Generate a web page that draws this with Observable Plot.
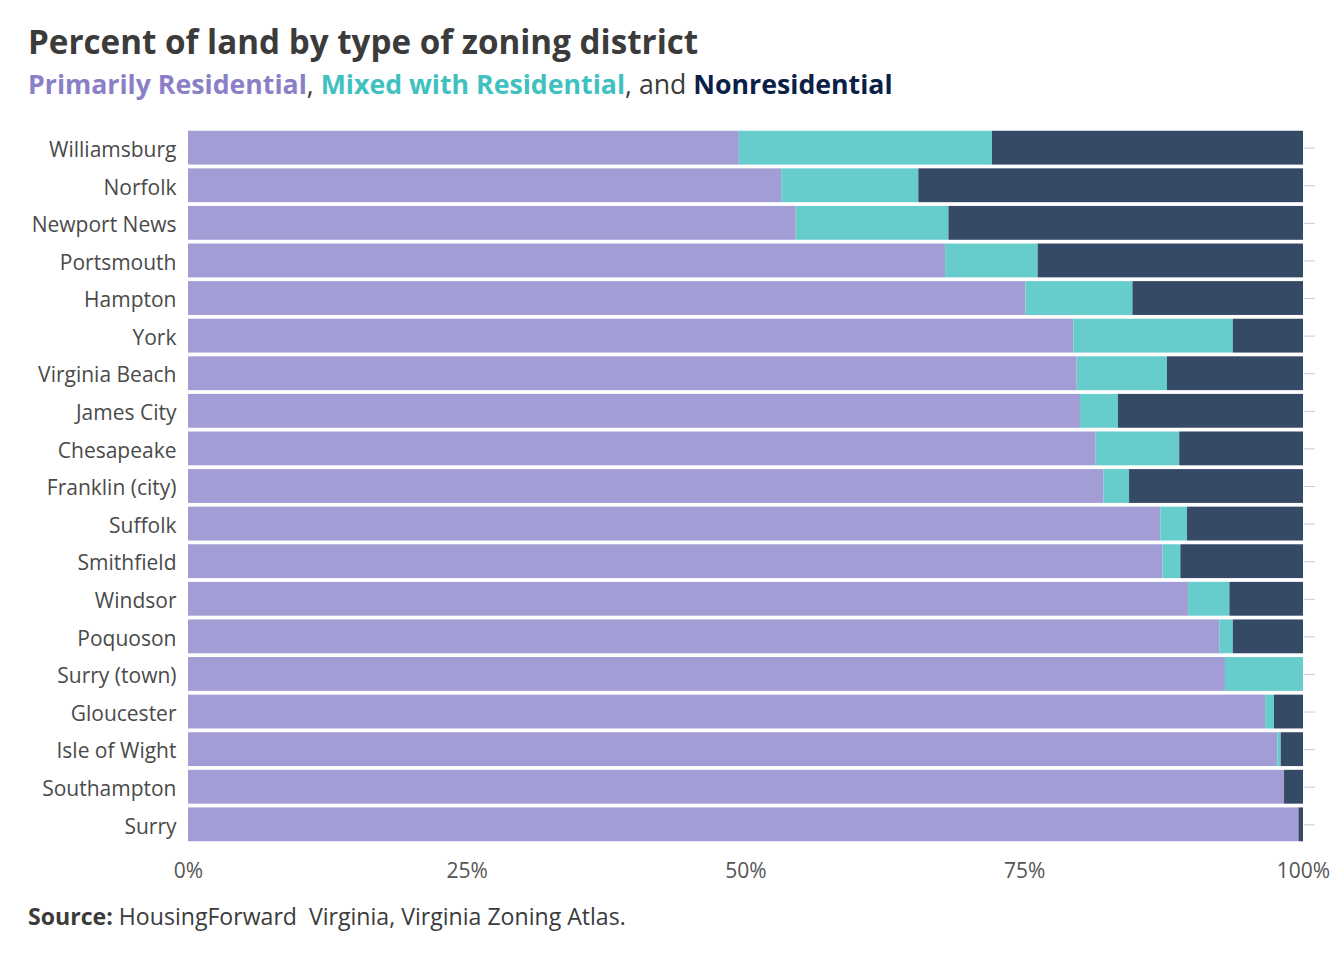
<!DOCTYPE html>
<html>
<head>
<meta charset="utf-8">
<script src="https://cdn.jsdelivr.net/npm/d3@7"></script>
<script src="https://cdn.jsdelivr.net/npm/@observablehq/plot@0.6"></script>
<style>
  html, body { margin: 0; padding: 0; background: #fff; }
  body { width: 1344px; height: 960px; position: relative; font-family: "Open Sans", sans-serif; overflow: hidden; }
  #title { position: absolute; left: 28px; top: 19px; font-size: 33.2px; font-weight: 700; color: #3b3b3b; white-space: nowrap; line-height: normal; }
  #subtitle { position: absolute; left: 28px; top: 65px; font-size: 26.7px; color: #3b3b3b; white-space: nowrap; line-height: normal; }
  #subtitle b { font-weight: 700; }
  #chart { position: absolute; left: 0; top: 110px; }
  #source { position: absolute; left: 28px; top: 900px; font-size: 23.1px; color: #3b3b3b; white-space: nowrap; line-height: normal; }
</style>
</head>
<body>
<div id="title">Percent of land by type of zoning district</div>
<div id="subtitle"><b style="color:#8a80c8">Primarily Residential</b>, <b style="color:#3fc1bf">Mixed with Residential</b>, and <b style="color:#0a2147">Nonresidential</b></div>
<div id="chart"></div>
<div id="source"><b>Source:</b> HousingForward&nbsp; Virginia, Virginia Zoning Atlas.</div>
<script>
const cities = ["Williamsburg","Norfolk","Newport News","Portsmouth","Hampton","York","Virginia Beach","James City","Chesapeake","Franklin (city)","Suffolk","Smithfield","Windsor","Poquoson","Surry (town)","Gloucester","Isle of Wight","Southampton","Surry"];
const residential = [49.4,53.2,54.5,67.9,75.1,79.4,79.7,80.0,81.4,82.1,87.2,87.4,89.7,92.5,93.0,96.6,97.7,98.3,99.6];
const mixed       = [22.7,12.3,13.7, 8.3, 9.6,14.3, 8.1, 3.4, 7.5, 2.3, 2.4, 1.6, 3.7, 1.2, 7.0, 0.8, 0.3, 0.0, 0.0];
const nonres      = [27.9,34.5,31.8,23.8,15.3, 6.3,12.2,16.6,11.1,15.6,10.4,11.0, 6.6, 6.3, 0.0, 2.6, 2.0, 1.7, 0.4];
const categories = ["Primarily Residential","Mixed with Residential","Nonresidential"];
const colors = ["#a39dd5","#67cdcc","#344a66"];
const xTicks = [0,25,50,75,100];

const rows = [];
cities.forEach((c, i) => {
  rows.push({city: c, type: categories[0], value: residential[i]});
  rows.push({city: c, type: categories[1], value: mixed[i]});
  rows.push({city: c, type: categories[2], value: nonres[i]});
});

const chart = Plot.plot({
  width: 1344,
  height: 790,
  marginLeft: 188,
  marginRight: 41,
  marginTop: 17,
  marginBottom: 55,
  style: {fontFamily: "Open Sans", background: "transparent"},
  x: {domain: [0, 100]},
  y: {domain: cities, padding: 0.1, round: false},
  color: {domain: categories, range: colors},
  marks: [
    Plot.barX(rows, Plot.stackX({x: "value", y: "city", fill: "type", order: categories})),
    Plot.axisX({ticks: xTicks, tickSize: 0, tickPadding: 18, tickFormat: d => d + "%", fontSize: 21, fill: "#555", label: null}),
    Plot.axisY({anchor: "left", tickSize: 0, tickPadding: 12, dy: 2, fontSize: 21, fill: "#4a4a4a", label: null}),
    Plot.axisY({anchor: "right", tickSize: 11, tickFormat: () => "", stroke: "#cccccc", label: null})
  ]
});
document.getElementById("chart").appendChild(chart);
</script>
</body>
</html>
